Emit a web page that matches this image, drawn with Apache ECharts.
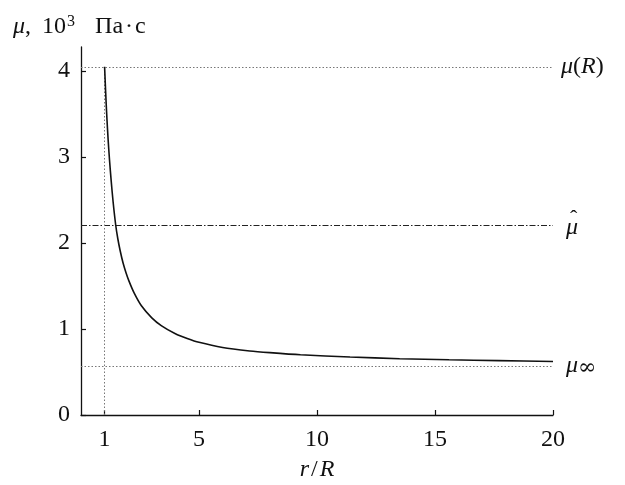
<!DOCTYPE html>
<html>
<head>
<meta charset="utf-8">
<script src="https://cdn.jsdelivr.net/npm/echarts@6/dist/echarts.min.js"></script>
<style>html,body{margin:0;padding:0;background:#fff}#c{width:625px;height:485px}</style>
</head>
<body>
<div id="c"></div>
<script>
// r/R values and viscosity values (10^3 Pa·s)
var rValues = [1, 1.03, 1.06, 1.1, 1.15, 1.21, 1.28, 1.36, 1.47, 1.56, 1.66, 1.78, 1.9, 2.03, 2.25, 2.56, 3.0, 3.4, 4.0, 4.5, 5.0, 6.0, 7.15, 8.0, 9.3, 11.4, 13.5, 15.6, 17.7, 20];
var muValues = [4.05, 3.85, 3.66, 3.44, 3.20, 2.96, 2.72, 2.48, 2.21, 2.05, 1.91, 1.77, 1.66, 1.56, 1.42, 1.27, 1.13, 1.04, 0.945, 0.89, 0.845, 0.785, 0.745, 0.725, 0.70, 0.675, 0.655, 0.642, 0.632, 0.623];
var muR = 4.05;      // μ(R)
var muHat = 2.21;    // μ̂
var muInf = 0.57;    // μ∞
var xTicks = [1, 5, 10, 15, 20];
var yTicks = [0, 1, 2, 3, 4];
var xMin = 0, xMax = 20, yMin = 0, yMax = 4.28;

var FONT = 'Liberation Serif';
var FS = 24;
var curve = rValues.map(function (r, i) { return [r, muValues[i]]; });

function it(sz) { return {fontFamily: FONT, fontStyle: 'italic', fontWeight: 'normal', fontSize: sz || FS, color: '#111'}; }
function up(sz, extra) { var o = {fontFamily: FONT, fontWeight: 'normal', fontSize: sz || FS, color: '#111'}; if (extra) for (var k in extra) o[k] = extra[k]; return o; }

var chart = echarts.init(document.getElementById('c'), null, {renderer: 'canvas'});
chart.setOption({
  animation: false,
  backgroundColor: '#fff',
  title: {
    left: 8, top: 9,
    text: '{i|μ}{t|,}{n|10}{s|3}{p|Па}{d|·}{t|с}',
    textStyle: {
      fontWeight: 'normal',
      rich: {
        i: it(),
        t: up(),
        n: up(FS, {padding: [0, 0, 0, 11]}),
        s: up(16, {verticalAlign: 'top', padding: [0, 0, 10, 1]}),
        p: up(FS, {padding: [0, 0, 0, 20]}),
        d: up(FS, {padding: [0, 2, 0, 2]})
      }
    }
  },
  grid: {left: 81, right: 72, top: 47, bottom: 70, outerBoundsMode: 'none'},
  xAxis: {
    type: 'value', min: xMin, max: xMax,
    name: '{i|r}{t|/}{i|R}', nameLocation: 'middle', nameGap: 43,
    nameTextStyle: {
      rich: {
        i: it(),
        t: up(FS, {padding: [0, 2, 0, 2]})
      }
    },
    axisLine: {show: true, onZero: false, lineStyle: {color: '#111', width: 1.3}},
    axisTick: {show: true, inside: true, length: 5, customValues: xTicks, lineStyle: {color: '#111', width: 1.2}},
    axisLabel: {customValues: xTicks, margin: 13, fontFamily: FONT, fontSize: FS, color: '#111'},
    splitLine: {show: false}
  },
  yAxis: {
    type: 'value', min: yMin, max: yMax,
    axisLine: {show: true, onZero: false, lineStyle: {color: '#111', width: 1.3}},
    axisTick: {show: true, inside: true, length: 5, customValues: yTicks, lineStyle: {color: '#111', width: 1.2}},
    axisLabel: {customValues: yTicks, margin: 11, fontFamily: FONT, fontSize: FS, color: '#111'},
    splitLine: {show: false}
  },
  series: [
    {
      type: 'line', data: curve, showSymbol: false, smooth: 0.25,
      lineStyle: {color: '#111', width: 1.6}, z: 5,
      markLine: {
        silent: true, symbol: ['none', 'none'], animation: false,
        data: [
          [{coord: [xMin, muR], lineStyle: {type: [1.5, 2], color: '#777', width: 1},
            label: {show: true, position: 'end', distance: 8, formatter: '{i|μ}{t|(}{i|R}{t|)}'}},
           {coord: [xMax, muR]}],
          [{coord: [xMin, muHat], lineStyle: {type: 'solid', color: 'rgba(0,0,0,0)', width: 0.01},
            label: {show: true, position: 'end', distance: 17, padding: [0, 0, 12, 0], formatter: '{h|ˆ}'}},
           {coord: [xMax, muHat]}],
          [{coord: [xMin, muHat], lineStyle: {type: [6, 2, 1.5, 2], color: '#222', width: 1},
            label: {show: true, position: 'end', distance: 13, padding: [6, 0, 0, 0], formatter: '{i|μ}'}},
           {coord: [xMax, muHat]}],
          [{coord: [xMin, muInf], lineStyle: {type: [1.5, 2], color: '#777', width: 1},
            label: {show: true, position: 'end', distance: 13, formatter: '{i|μ}{sub|∞}'}},
           {coord: [xMax, muInf]}],
          [{coord: [1, yMin], lineStyle: {type: [1.5, 2], color: '#777', width: 1}, label: {show: false}},
           {coord: [1, muR]}]
        ],
        label: {
          rich: {
            i: it(),
            t: up(),
            h: up(22),
            sub: {fontFamily: 'DejaVu Serif', fontWeight: 'normal', fontSize: 22, color: '#111', padding: [5, 0, 0, 0]}
          }
        }
      }
    }
  ]
});
</script>
</body>
</html>
